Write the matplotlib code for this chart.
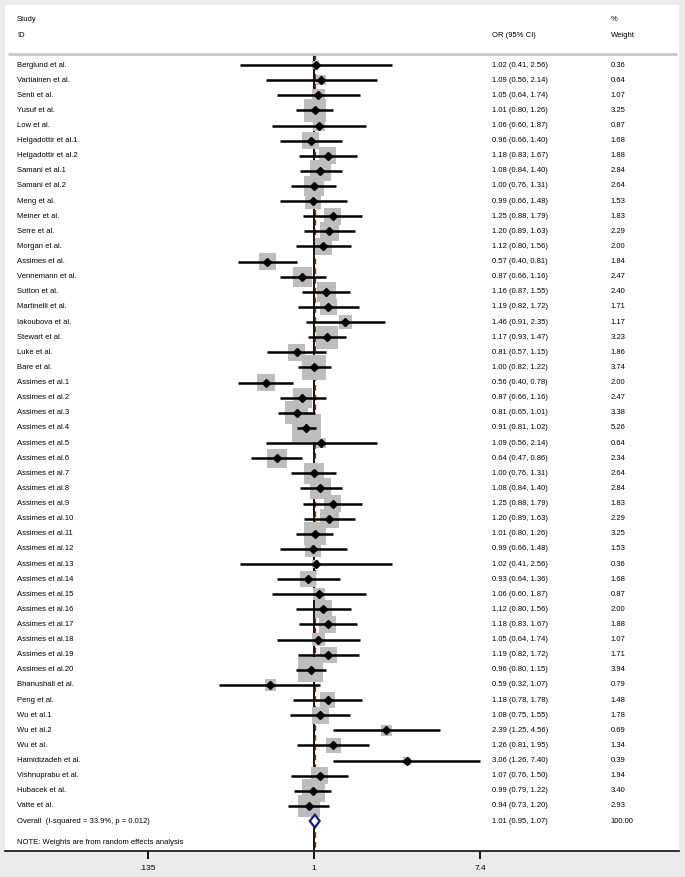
import numpy as np
import matplotlib.pyplot as plt
import matplotlib.transforms as mtransforms
from matplotlib.patches import Polygon

plt.rcParams['font.family'] = ['Liberation Sans', 'DejaVu Sans']

studies = ["Berglund et al.", "Vartiainen et al.", "Senti et al.", "Yusuf et al.", "Low et al.",
           "Helgadottir et al.1", "Helgadottir et al.2", "Samani et al.1", "Samani et al.2", "Meng et al.",
           "Meiner et al.", "Serre et al.", "Morgan et al.", "Assimes et al.", "Vennemann et al.",
           "Sutton et al.", "Martinelli et al.", "Iakoubova et al.", "Stewart et al.", "Luke et al.",
           "Bare et al.", "Assimes et al.1", "Assimes et al.2", "Assimes et al.3", "Assimes et al.4",
           "Assimes et al.5", "Assimes et al.6", "Assimes et al.7", "Assimes et al.8", "Assimes et al.9",
           "Assimes et al.10", "Assimes et al.11", "Assimes et al.12", "Assimes et al.13", "Assimes et al.14",
           "Assimes et al.15", "Assimes et al.16", "Assimes et al.17", "Assimes et al.18", "Assimes et al.19",
           "Assimes et al.20", "Bhanushali et al.", "Peng et al.", "Wu et al.1", "Wu et al.2",
           "Wu et al.", "Hamidizadeh et al.", "Vishnuprabu et al.", "Hubacek et al.", "Vatte et al."]
odds_ratio = [1.02, 1.09, 1.05, 1.01, 1.06, 0.96, 1.18, 1.08, 1.00, 0.99,
              1.25, 1.20, 1.12, 0.57, 0.87, 1.16, 1.19, 1.46, 1.17, 0.81,
              1.00, 0.56, 0.87, 0.81, 0.91, 1.09, 0.64, 1.00, 1.08, 1.25,
              1.20, 1.01, 0.99, 1.02, 0.93, 1.06, 1.12, 1.18, 1.05, 1.19,
              0.96, 0.59, 1.18, 1.08, 2.39, 1.26, 3.06, 1.07, 0.99, 0.94]
ci_low = [0.41, 0.56, 0.64, 0.80, 0.60, 0.66, 0.83, 0.84, 0.76, 0.66,
          0.88, 0.89, 0.80, 0.40, 0.66, 0.87, 0.82, 0.91, 0.93, 0.57,
          0.82, 0.40, 0.66, 0.65, 0.81, 0.56, 0.47, 0.76, 0.84, 0.88,
          0.89, 0.80, 0.66, 0.41, 0.64, 0.60, 0.80, 0.83, 0.64, 0.82,
          0.80, 0.32, 0.78, 0.75, 1.25, 0.81, 1.26, 0.76, 0.79, 0.73]
ci_high = [2.56, 2.14, 1.74, 1.26, 1.87, 1.40, 1.67, 1.40, 1.31, 1.48,
           1.79, 1.63, 1.56, 0.81, 1.16, 1.55, 1.72, 2.35, 1.47, 1.15,
           1.22, 0.78, 1.16, 1.01, 1.02, 2.14, 0.86, 1.31, 1.40, 1.79,
           1.63, 1.26, 1.48, 2.56, 1.36, 1.87, 1.56, 1.67, 1.74, 1.72,
           1.15, 1.07, 1.78, 1.55, 4.56, 1.95, 7.40, 1.50, 1.22, 1.20]
weight = [0.36, 0.64, 1.07, 3.25, 0.87, 1.68, 1.88, 2.84, 2.64, 1.53,
          1.83, 2.29, 2.00, 1.84, 2.47, 2.40, 1.71, 1.17, 3.23, 1.86,
          3.74, 2.00, 2.47, 3.38, 5.26, 0.64, 2.34, 2.64, 2.84, 1.83,
          2.29, 3.25, 1.53, 0.36, 1.68, 0.87, 2.00, 1.88, 1.07, 1.71,
          3.94, 0.79, 1.48, 1.78, 0.69, 1.34, 0.39, 1.94, 3.40, 2.93]

overall_label = "Overall  (I-squared = 33.9%, p = 0.012)"
overall_or, overall_low, overall_high, overall_weight = 1.01, 0.95, 1.07, 100.00
note = "NOTE: Weights are from random effects analysis"

tick_values = [0.135, 1, 7.4]
tick_labels = [".135", "1", "7.4"]

n = len(studies)
rows = np.arange(n)
overall_row = n

fig = plt.figure(figsize=(6.85, 8.77), dpi=100, facecolor='#ebebeb')
ax = fig.add_axes([5/685, 26/877, 674/685, 846/877])
ax.set_facecolor('white')
ax.set_xscale('log')
ax.set_xlim(0.02421, 81.0)
ax.set_ylim(51.98, -3.97)

# reference lines (null + overall estimate)
ax.vlines(1, -0.73, 51.98, color='black', lw=1.3, zorder=1)
ax.vlines(overall_or, -0.73, 51.98, color='#b01c1c', lw=1.0, linestyles=(0, (4, 3)), zorder=1.1)

# weight boxes, CIs, point estimates
ax.scatter(odds_ratio, rows, s=np.array(weight) * 82, marker='s', color='#bdbdbd', linewidths=0, zorder=2)
ax.hlines(rows, ci_low, ci_high, color='black', lw=1.8, zorder=3)
ax.plot(odds_ratio, rows, ls='none', marker='D', markersize=4.5, color='black', zorder=4)

# overall diamond
diamond = Polygon([(overall_low, overall_row), (overall_or, overall_row - 0.42),
                   (overall_high, overall_row), (overall_or, overall_row + 0.42)],
                  closed=True, facecolor='white', edgecolor='#1c1c80', lw=1.6, zorder=5)
ax.add_patch(diamond)

# text columns
tr = mtransforms.blended_transform_factory(ax.transAxes, ax.transData)
x_name, x_ci, x_w = 0.0178, 0.7226, 0.899
fs = 5.5
ax.text(x_name, -2.98, "Study", transform=tr, fontsize=fs, va='center')
ax.text(x_name, -1.92, "ID", transform=tr, fontsize=fs, va='center')
ax.text(x_ci, -1.92, "OR (95% CI)", transform=tr, fontsize=fs, va='center')
ax.text(x_w, -2.98, "%", transform=tr, fontsize=fs, va='center')
ax.text(x_w, -1.92, "Weight", transform=tr, fontsize=fs, va='center')
ax.hlines(-0.73, 0.0045, 0.997, transform=tr, color='#c8c8c8', lw=2)

for i in range(n):
    ax.text(x_name, i, studies[i], transform=tr, fontsize=fs, va='center')
    ax.text(x_ci, i, f"{odds_ratio[i]:.2f} ({ci_low[i]:.2f}, {ci_high[i]:.2f})", transform=tr, fontsize=fs, va='center')
    ax.text(x_w, i, f"{weight[i]:.2f}", transform=tr, fontsize=fs, va='center')

ax.text(x_name, overall_row, overall_label, transform=tr, fontsize=fs, va='center')
ax.text(x_ci, overall_row, f"{overall_or:.2f} ({overall_low:.2f}, {overall_high:.2f})", transform=tr, fontsize=fs, va='center')
ax.text(x_w, overall_row, f"{overall_weight:.2f}", transform=tr, fontsize=fs, va='center')
ax.text(x_name, 51.45, note, transform=tr, fontsize=fs, va='center')

# axis
for s in ['top', 'left', 'right']:
    ax.spines[s].set_visible(False)
ax.spines['bottom'].set_linewidth(1.3)
ax.spines['bottom'].set_color('#222222')
ax.set_yticks([])
ax.set_xticks(tick_values)
ax.set_xticklabels(tick_labels)
ax.minorticks_off()
ax.tick_params(axis='x', length=6, width=1.3, pad=4, labelsize=6)

fig.savefig('out.png', dpi=100, facecolor=fig.get_facecolor())
